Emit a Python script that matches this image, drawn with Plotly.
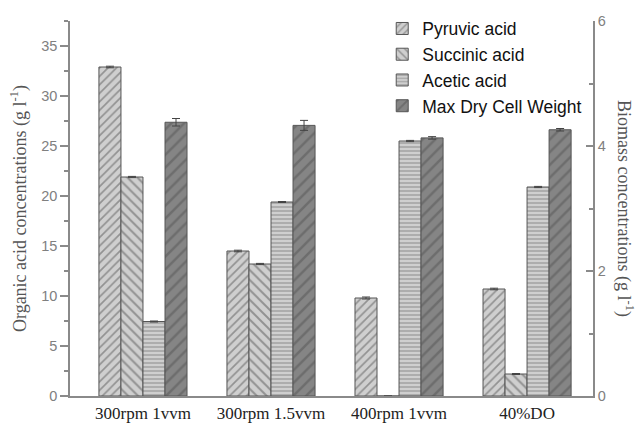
import plotly.graph_objects as go

categories = ["300rpm 1vvm", "300rpm 1.5vvm", "400rpm 1vvm", "40%DO"]
pyruvic = [32.9, 14.5, 9.8, 10.7]
pyruvic_err = [0.08, 0.08, 0.1, 0.08]
succinic = [21.9, 13.2, 0.0, 2.2]
succinic_err = [0.06, 0.06, 0.0, 0.05]
acetic = [7.45, 19.4, 25.5, 20.9]
acetic_err = [0.05, 0.05, 0.06, 0.06]
dcw = [4.38, 4.33, 4.13, 4.26]
dcw_err = [0.06, 0.08, 0.02, 0.02]

left_ticks = [0, 5, 10, 15, 20, 25, 30, 35]
right_ticks = [0, 2, 4, 6]

sans = "Liberation Sans, Arial, sans-serif"
serif = "Liberation Serif, Times New Roman, serif"
axis_col = "#8a8a8a"
tick_col = "#808080"

W = 0.172
x = list(range(len(categories)))

def bar(name, vals, err, shape, bg, k, size, yaxis="y"):
    return go.Bar(
        name=name, x=x, y=vals, yaxis=yaxis,
        width=W, offset=-2 * W + k * W,
        marker=dict(color=bg, line=dict(color="#555555", width=1),
                    pattern=dict(shape=shape, fgcolor="#555555", bgcolor=bg,
                                 size=size, solidity=0.28)),
        error_y=dict(type="data", array=err, color="#444444", thickness=1, width=4,
                     visible=True),
    )

fig = go.Figure()
fig.add_trace(bar("Pyruvic acid", pyruvic, pyruvic_err, "/", "#cfcfcf", 0, 6))
fig.add_trace(bar("Succinic acid", succinic, succinic_err, "\\", "#cfcfcf", 1, 7))
fig.add_trace(bar("Acetic acid", acetic, acetic_err, "-", "#cfcfcf", 2, 4))
fig.add_trace(bar("Max Dry Cell Weight", dcw, dcw_err, "/", "#858585", 3, 9, yaxis="y2"))

fig.update_layout(
    width=637, height=425,
    margin=dict(l=70, r=44, t=20, b=29),
    paper_bgcolor="white", plot_bgcolor="white",
    showlegend=True,
    legend=dict(x=0.597, y=1.025, xanchor="left", yanchor="top",
                font=dict(family=sans, size=17.5, color="#111111"),
                bgcolor="rgba(0,0,0,0)", tracegroupgap=0, itemwidth=30),
    xaxis=dict(
        tickmode="array", tickvals=x, ticktext=categories, automargin=False,
        range=[-0.57, 3.515], showline=True, linecolor=axis_col, linewidth=1.5,
        ticks="", showgrid=False, zeroline=False, ticklabelstandoff=1,
        tickfont=dict(family=serif, size=17, color="#222222"),
    ),
    yaxis=dict(
        range=[0, 37.5], tickvals=left_ticks, showline=True, linecolor=axis_col,
        linewidth=1.5, ticks="outside", ticklen=8, tickcolor=axis_col, tickwidth=1.5,
        minor=dict(dtick=2.5, tick0=0, ticks="outside", ticklen=4, tickcolor=axis_col),
        showgrid=False, zeroline=False, automargin=False,
        tickfont=dict(family=sans, size=14.5, color=tick_col),
        title=dict(text="Organic acid concentrations (g l<sup>-1</sup>)",
                   font=dict(family=serif, size=18, color="#555555"), standoff=10),
    ),
    yaxis2=dict(
        range=[0, 6], tickvals=right_ticks, overlaying="y", side="right",
        showline=True, linecolor=axis_col, linewidth=1.5, ticks="inside", ticklen=7,
        tickcolor=axis_col, tickwidth=1.5, automargin=False,
        minor=dict(dtick=1, tick0=0, ticks="inside", ticklen=4, tickcolor=axis_col),
        showgrid=False, zeroline=False,
        tickfont=dict(family=sans, size=14.5, color=tick_col),
    ),
    annotations=[dict(
        text="Biomass concentrations (g l<sup>-1</sup>)", textangle=90,
        xref="paper", yref="paper", x=1.062, y=0.5, xanchor="center", yanchor="middle",
        showarrow=False, font=dict(family=serif, size=18, color="#555555"),
    )],
)

fig.write_html("out.html")
